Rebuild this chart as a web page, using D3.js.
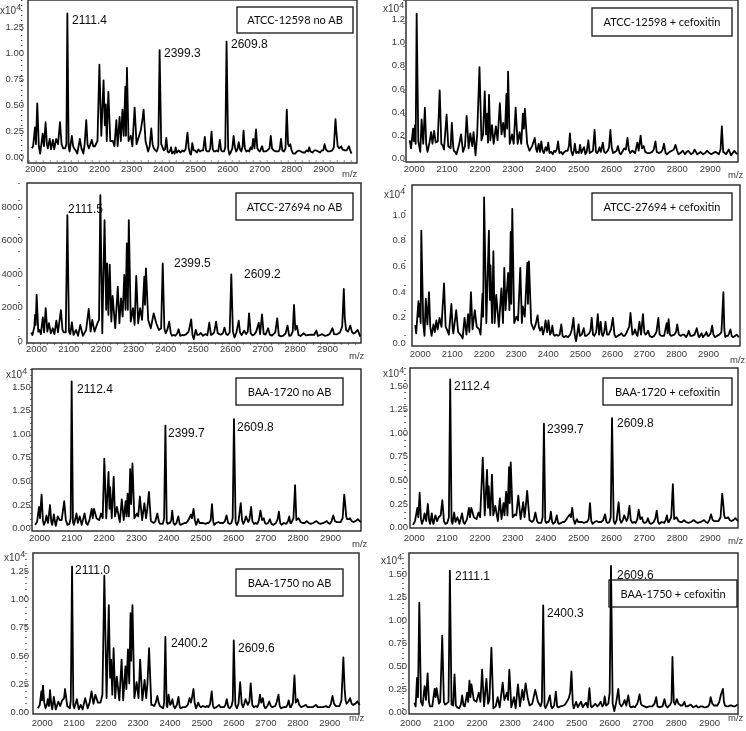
<!DOCTYPE html>
<html>
<head>
<meta charset="utf-8">
<script src="https://cdnjs.cloudflare.com/ajax/libs/d3/7.8.5/d3.min.js"></script>
<style>
  html, body { margin: 0; padding: 0; background: #fff; }
  svg { display: block; }
  text { font-family: "Liberation Sans", Arial, sans-serif; }
  .tick text { fill: #3a3a3a; font-size: 9.5px; }
  .peak-label { fill: #111; font-size: 12px; }
  .box-label { fill: #111; font-family: Lato, sans-serif; font-size: 11px; text-anchor: middle; }
</style>
</head>
<body>
<div id="chart"></div>
<script>
// spectra: [m/z as it sits against the printed axis, intensity in axis units]
const atcc12598NoAb = [[1990,.08],[1994,.1],[2000,.28],[2003,.12],[2007,.51],[2012,.1],[2016,.03],[2020,.12],[2024,.22],[2028,.1],[2033,.33],[2037,.12],[2040,.08],[2046,.17],[2050,.07],[2056,.16],[2060,.07],[2066,.17],[2072,.12],[2078,.33],[2083,.12],[2088,.08],[2094,.08],[2098,.12],[2101,1.37],[2105,.1],[2108,.05],[2115,.2],[2119,.1],[2122,.08],[2127,.06],[2132,.03],[2136,.1],[2140,.17],[2145,.08],[2151,.03],[2155,.12],[2160,.35],[2164,.12],[2168,.08],[2173,.12],[2177,.16],[2182,.1],[2187,.1],[2195,.15],[2201,.88],[2207,.2],[2214,.73],[2218,.3],[2221,.5],[2224,.15],[2229,.62],[2235,.15],[2243,.15],[2248,.1],[2254,.35],[2258,.1],[2264,.38],[2268,.15],[2273,.45],[2277,.2],[2282,.67],[2284,.2],[2287,.85],[2292,.15],[2299,.2],[2304,.1],[2311,.47],[2317,.12],[2325,.2],[2330,.25],[2336,.37],[2339,.45],[2345,.15],[2353,.05],[2358,.1],[2363,.27],[2367,.12],[2371,.08],[2376,.06],[2380,.05],[2385,.1],[2389,1.02],[2394,.12],[2397,.1],[2402,.06],[2406,.07],[2410,.18],[2414,.05],[2418,.04],[2422,.06],[2425,.09],[2428,.03],[2433,.05],[2436,.03],[2439,.09],[2443,.04],[2449,.06],[2454,.04],[2460,.06],[2465,.05],[2470,.07],[2476,.23],[2480,.08],[2484,.03],[2487,.02],[2491,.13],[2495,.06],[2500,.06],[2505,.04],[2510,.07],[2515,.05],[2520,.06],[2525,.06],[2530,.19],[2534,.06],[2538,.05],[2543,.05],[2547,.08],[2551,.24],[2555,.07],[2559,.05],[2563,.05],[2567,.06],[2572,.05],[2577,.16],[2581,.06],[2586,.05],[2590,.05],[2594,.09],[2598,1.1],[2603,.08],[2607,.02],[2611,.04],[2616,.08],[2620,.2],[2624,.09],[2628,.05],[2632,.07],[2636,.14],[2640,.07],[2644,.05],[2648,.1],[2651,.25],[2655,.08],[2660,.05],[2665,.06],[2669,.05],[2673,.09],[2677,.07],[2681,.17],[2685,.08],[2690,.26],[2694,.08],[2698,.06],[2702,.05],[2706,.08],[2709,.1],[2713,.05],[2720,.05],[2725,.06],[2732,.08],[2736,.2],[2740,.08],[2745,.06],[2752,.05],[2760,.05],[2764,.07],[2768,.17],[2772,.06],[2777,.05],[2782,.08],[2786,.45],[2790,.12],[2793,.1],[2797,.12],[2801,.06],[2806,.03],[2812,.03],[2818,.05],[2824,.06],[2830,.05],[2836,.04],[2842,.04],[2848,.06],[2853,.05],[2856,.09],[2860,.05],[2866,.04],[2872,.06],[2878,.06],[2884,.05],[2890,.04],[2895,.06],[2900,.06],[2904,.12],[2908,.07],[2914,.05],[2920,.05],[2928,.06],[2933,.09],[2938,.36],[2941,.23],[2945,.1],[2950,.08],[2956,.1],[2960,.07],[2967,.06],[2973,.06],[2980,.1],[2984,.06],[2988,.03]];

const atcc12598Cef = [[1988,.15],[1992,.08],[1998,.25],[2001,.14],[2004,.28],[2006,.12],[2009,1.24],[2014,.14],[2020,.05],[2024,.33],[2029,.12],[2034,.43],[2038,.12],[2042,.05],[2048,.13],[2053,.22],[2057,.12],[2062,.23],[2067,.13],[2073,.14],[2079,.58],[2084,.12],[2089,.1],[2092,.07],[2100,.37],[2105,.1],[2112,.08],[2116,.3],[2120,.1],[2122,.06],[2126,.05],[2130,.03],[2137,.1],[2144,.2],[2150,.05],[2156,.1],[2161,.36],[2167,.08],[2172,.21],[2178,.1],[2182,.22],[2188,.02],[2193,.2],[2200,.78],[2206,.15],[2211,.2],[2216,.57],[2220,.2],[2223,.38],[2226,.13],[2229,.54],[2233,.15],[2238,.28],[2243,.12],[2250,.27],[2255,.15],[2262,.47],[2267,.2],[2272,.3],[2277,.18],[2282,.55],[2284,.25],[2287,.74],[2292,.12],[2299,.2],[2304,.12],[2310,.43],[2316,.12],[2322,.22],[2327,.12],[2332,.38],[2335,.25],[2338,.42],[2345,.12],[2352,.06],[2360,.1],[2368,.17],[2372,.08],[2375,.05],[2380,.12],[2384,.05],[2388,.14],[2392,.06],[2396,.04],[2401,.09],[2405,.06],[2409,.13],[2413,.04],[2418,.05],[2423,.03],[2427,.06],[2431,.05],[2435,.07],[2439,.14],[2443,.04],[2448,.05],[2453,.03],[2458,.05],[2463,.06],[2468,.06],[2472,.1],[2475,.21],[2479,.06],[2483,.02],[2487,.06],[2490,.12],[2494,.04],[2498,.05],[2502,.04],[2506,.11],[2510,.04],[2514,.07],[2518,.09],[2522,.03],[2526,.05],[2531,.15],[2535,.04],[2540,.05],[2545,.06],[2550,.24],[2554,.05],[2558,.04],[2562,.06],[2565,.09],[2569,.05],[2575,.13],[2579,.05],[2583,.04],[2590,.06],[2594,.09],[2598,.24],[2602,.09],[2606,.04],[2612,.05],[2617,.06],[2621,.1],[2626,.04],[2630,.03],[2636,.06],[2640,.08],[2645,.07],[2650,.17],[2654,.07],[2658,.04],[2665,.06],[2673,.04],[2680,.13],[2684,.06],[2690,.19],[2694,.08],[2699,.1],[2704,.05],[2710,.04],[2718,.04],[2725,.05],[2730,.07],[2735,.14],[2739,.05],[2745,.04],[2753,.05],[2757,.07],[2761,.12],[2766,.04],[2770,.03],[2778,.05],[2785,.06],[2791,.07],[2796,.11],[2801,.06],[2805,.03],[2811,.04],[2818,.06],[2825,.03],[2830,.05],[2835,.06],[2843,.03],[2849,.04],[2854,.07],[2858,.05],[2862,.03],[2868,.04],[2872,.05],[2880,.03],[2886,.04],[2892,.06],[2899,.04],[2905,.03],[2911,.04],[2917,.05],[2923,.04],[2928,.03],[2933,.07],[2937,.27],[2941,.05],[2946,.04],[2950,.03],[2958,.07],[2965,.02],[2970,.04],[2975,.06],[2980,.04],[2985,.03]];

const atcc27694NoAb = [[1985,440],[1989,300],[1995,800],[1997,1500],[1999,900],[2002,2700],[2007,500],[2011,600],[2015,350],[2021,1350],[2025,450],[2030,1900],[2035,500],[2040,1000],[2046,400],[2052,700],[2057,350],[2063,1150],[2068,450],[2077,1780],[2082,600],[2086,450],[2092,450],[2097,7460],[2102,500],[2106,350],[2111,1050],[2116,300],[2124,600],[2130,250],[2137,900],[2145,250],[2155,600],[2163,1850],[2169,500],[2174,1200],[2181,500],[2190,1000],[2195,1200],[2199,8650],[2205,400],[2212,7160],[2217,1800],[2220,4570],[2224,1500],[2228,4500],[2233,1100],[2237,2630],[2245,700],[2253,3180],[2258,1000],[2263,2490],[2268,1400],[2273,3880],[2277,1800],[2281,5770],[2284,1800],[2287,7160],[2293,1100],[2300,1900],[2305,900],[2310,3820],[2316,1000],[2322,1900],[2328,1200],[2335,3780],[2337,2100],[2340,4280],[2347,1200],[2355,700],[2364,1590],[2372,1000],[2380,600],[2387,700],[2392,4570],[2397,700],[2401,400],[2406,600],[2412,1090],[2417,400],[2421,250],[2426,300],[2431,250],[2437,400],[2441,640],[2446,250],[2452,300],[2458,280],[2465,350],[2472,500],[2480,1230],[2484,300],[2488,50],[2494,600],[2499,300],[2504,320],[2510,420],[2516,250],[2520,300],[2525,350],[2530,280],[2536,1030],[2541,300],[2546,350],[2551,450],[2557,1090],[2562,400],[2567,350],[2572,320],[2578,400],[2583,740],[2588,350],[2593,300],[2599,450],[2604,3920],[2609,500],[2614,150],[2620,450],[2627,1150],[2631,450],[2636,300],[2644,550],[2650,350],[2655,500],[2659,1590],[2664,400],[2669,280],[2675,330],[2681,500],[2689,1030],[2693,350],[2699,1530],[2704,380],[2710,320],[2718,700],[2723,320],[2730,260],[2740,450],[2746,1290],[2751,280],[2758,220],[2765,260],[2772,400],[2778,860],[2783,250],[2788,260],[2794,500],[2798,2090],[2802,600],[2807,840],[2812,300],[2818,240],[2828,400],[2835,280],[2843,300],[2852,320],[2860,300],[2867,560],[2872,240],[2879,300],[2885,350],[2893,250],[2900,280],[2908,350],[2917,700],[2922,350],[2930,330],[2940,450],[2947,800],[2952,3050],[2955,1300],[2959,600],[2965,500],[2972,860],[2977,500],[2982,380],[2988,450],[2995,600],[3003,200]];

const atcc27694Cef = [[1986,.135],[1989,.07],[1996,.32],[1998,.2],[2000,.3],[2003,.15],[2005,.87],[2011,.15],[2015,.05],[2019,.34],[2024,.14],[2029,.39],[2033,.12],[2037,.05],[2043,.14],[2047,.08],[2052,.17],[2056,.1],[2062,.19],[2068,.12],[2076,.46],[2081,.12],[2085,.1],[2091,.06],[2099,.3],[2103,.1],[2105,.07],[2114,.25],[2120,.08],[2130,.05],[2134,.03],[2140,.19],[2146,.06],[2151,.22],[2155,.08],[2160,.39],[2165,.1],[2172,.25],[2178,.12],[2186,.1],[2190,.06],[2196,.38],[2198,.2],[2201,1.13],[2208,.15],[2216,.87],[2219,.33],[2221,.6],[2226,.15],[2230,.71],[2234,.15],[2239,.37],[2247,.12],[2255,.42],[2260,.15],[2264,.58],[2268,.25],[2272,.4],[2276,.54],[2280,.25],[2284,.86],[2286,.3],[2289,1.04],[2295,.15],[2302,.2],[2307,.17],[2314,.58],[2319,.15],[2322,.28],[2328,.2],[2336,.62],[2338,.3],[2341,.63],[2348,.15],[2356,.1],[2362,.14],[2368,.21],[2372,.12],[2376,.09],[2381,.12],[2385,.06],[2389,.1],[2393,.17],[2398,.08],[2402,.17],[2407,.06],[2411,.08],[2414,.13],[2418,.06],[2422,.05],[2427,.06],[2432,.05],[2437,.06],[2442,.14],[2446,.05],[2450,.04],[2456,.05],[2463,.04],[2470,.06],[2475,.1],[2480,.19],[2484,.06],[2488,.01],[2492,.07],[2496,.14],[2500,.05],[2506,.06],[2512,.11],[2516,.05],[2520,.05],[2525,.06],[2529,.07],[2533,.09],[2537,.19],[2541,.06],[2545,.05],[2551,.08],[2556,.22],[2560,.06],[2565,.16],[2569,.06],[2572,.05],[2576,.08],[2580,.16],[2585,.06],[2590,.06],[2597,.1],[2603,.19],[2608,.06],[2612,.04],[2618,.05],[2625,.06],[2630,.07],[2635,.05],[2640,.05],[2645,.07],[2650,.1],[2654,.12],[2658,.23],[2664,.06],[2668,.07],[2672,.1],[2677,.06],[2680,.05],[2686,.16],[2691,.06],[2697,.22],[2701,.08],[2705,.06],[2709,.07],[2713,.09],[2718,.05],[2725,.04],[2732,.05],[2739,.08],[2745,.19],[2749,.06],[2755,.05],[2763,.05],[2771,.15],[2774,.07],[2777,.18],[2781,.06],[2785,.05],[2795,.06],[2800,.08],[2804,.14],[2809,.06],[2815,.05],[2820,.06],[2825,.06],[2832,.04],[2836,.06],[2840,.09],[2845,.05],[2850,.05],[2858,.06],[2865,.11],[2870,.05],[2873,.04],[2877,.06],[2880,.07],[2884,.04],[2887,.05],[2891,.06],[2895,.08],[2899,.05],[2903,.05],[2908,.07],[2913,.13],[2917,.06],[2922,.04],[2928,.05],[2935,.06],[2942,.08],[2948,.39],[2951,.1],[2954,.04],[2958,.05],[2962,.05],[2966,.07],[2970,.1],[2974,.05],[2978,.04],[2984,.05],[2990,.06],[2996,.04]];

const baa1720NoAb = [[1988,.03],[1994,.06],[2000,.22],[2003,.1],[2008,.35],[2012,.08],[2015,.03],[2020,.07],[2023,.13],[2028,.05],[2034,.24],[2038,.06],[2041,.03],[2046,.14],[2050,.05],[2052,.02],[2058,.12],[2064,.08],[2070,.08],[2078,.28],[2083,.08],[2088,.03],[2094,.04],[2098,.1],[2101,1.55],[2105,.06],[2108,.03],[2116,.15],[2120,.05],[2126,.12],[2132,.03],[2141,.15],[2146,.05],[2150,.03],[2156,.08],[2163,.2],[2166,.1],[2170,.2],[2178,.1],[2186,.08],[2192,.15],[2197,.1],[2202,.73],[2208,.1],[2215,.59],[2218,.2],[2220,.43],[2225,.1],[2231,.54],[2235,.12],[2241,.22],[2250,.06],[2256,.3],[2262,.08],[2268,.28],[2271,.12],[2274,.36],[2278,.12],[2282,.62],[2285,.25],[2289,.68],[2295,.1],[2303,.15],[2307,.12],[2312,.33],[2319,.08],[2326,.26],[2331,.1],[2335,.2],[2340,.38],[2346,.07],[2350,.06],[2355,.05],[2360,.07],[2366,.15],[2371,.06],[2375,.04],[2380,.04],[2383,.04],[2387,.1],[2391,1.08],[2395,.06],[2398,.04],[2402,.05],[2405,.05],[2409,.08],[2412,.18],[2416,.05],[2420,.03],[2425,.05],[2431,.12],[2435,.04],[2438,.03],[2444,.04],[2450,.05],[2455,.05],[2460,.07],[2465,.1],[2470,.14],[2473,.1],[2478,.2],[2482,.08],[2486,.03],[2492,.09],[2496,.05],[2500,.05],[2507,.05],[2515,.04],[2520,.05],[2525,.05],[2531,.08],[2535,.25],[2539,.06],[2542,.03],[2548,.05],[2555,.06],[2560,.05],[2565,.05],[2570,.05],[2575,.07],[2580,.13],[2585,.05],[2590,.04],[2595,.05],[2599,.1],[2603,1.15],[2608,.06],[2612,.03],[2617,.07],[2624,.26],[2628,.08],[2632,.04],[2636,.07],[2640,.12],[2647,.06],[2651,.09],[2656,.22],[2660,.07],[2665,.04],[2670,.05],[2675,.04],[2680,.08],[2685,.18],[2690,.08],[2695,.1],[2699,.05],[2703,.04],[2709,.05],[2714,.09],[2719,.04],[2725,.03],[2733,.05],[2738,.09],[2742,.17],[2746,.05],[2750,.03],[2757,.05],[2765,.04],[2770,.07],[2774,.12],[2777,.05],[2780,.05],[2787,.1],[2792,.45],[2796,.08],[2803,.1],[2809,.06],[2815,.05],[2822,.05],[2828,.07],[2834,.05],[2840,.04],[2848,.05],[2858,.07],[2864,.05],[2870,.04],[2880,.05],[2890,.07],[2895,.05],[2900,.04],[2905,.07],[2910,.13],[2915,.07],[2920,.06],[2927,.06],[2933,.06],[2939,.1],[2944,.35],[2947,.25],[2950,.12],[2953,.09],[2958,.09],[2962,.1],[2967,.07],[2972,.06],[2979,.07],[2986,.09],[2995,.06]];

const baa1720Cef = [[1998,.02],[2004,.06],[2011,.2],[2014,.1],[2018,.36],[2022,.08],[2025,.03],[2030,.08],[2033,.14],[2038,.06],[2043,.24],[2047,.06],[2050,.03],[2055,.14],[2058,.05],[2060,.03],[2066,.12],[2071,.06],[2076,.1],[2082,.12],[2087,.28],[2092,.06],[2096,.03],[2102,.04],[2107,.1],[2111,1.56],[2115,.06],[2118,.03],[2123,.15],[2127,.05],[2133,.1],[2139,.03],[2147,.14],[2151,.05],[2155,.03],[2162,.08],[2168,.2],[2171,.1],[2175,.2],[2183,.1],[2191,.08],[2197,.15],[2202,.1],[2210,.73],[2216,.12],[2223,.6],[2226,.2],[2228,.43],[2233,.12],[2238,.55],[2242,.12],[2248,.22],[2256,.06],[2262,.3],[2267,.08],[2273,.25],[2276,.12],[2281,.37],[2285,.12],[2290,.63],[2292,.25],[2295,.68],[2301,.1],[2308,.13],[2312,.12],[2318,.33],[2325,.08],[2333,.26],[2337,.1],[2341,.22],[2345,.38],[2352,.07],[2356,.06],[2360,.05],[2365,.07],[2370,.15],[2375,.06],[2379,.04],[2384,.04],[2388,.04],[2392,.1],[2396,1.09],[2400,.06],[2403,.04],[2407,.05],[2410,.05],[2414,.08],[2417,.16],[2421,.05],[2424,.03],[2430,.05],[2435,.12],[2439,.04],[2442,.03],[2448,.04],[2453,.05],[2458,.05],[2463,.07],[2468,.1],[2475,.13],[2478,.1],[2482,.2],[2486,.08],[2490,.03],[2496,.08],[2500,.05],[2504,.05],[2511,.05],[2518,.04],[2523,.05],[2527,.05],[2532,.08],[2536,.25],[2540,.06],[2544,.03],[2550,.05],[2556,.06],[2561,.05],[2566,.05],[2570,.05],[2576,.07],[2582,.13],[2586,.05],[2590,.04],[2595,.05],[2599,.1],[2603,1.15],[2608,.06],[2612,.03],[2617,.07],[2623,.26],[2627,.08],[2631,.04],[2636,.07],[2640,.12],[2647,.06],[2651,.09],[2656,.22],[2660,.07],[2665,.04],[2670,.05],[2675,.04],[2680,.08],[2684,.18],[2689,.08],[2694,.1],[2698,.05],[2702,.04],[2708,.05],[2712,.09],[2717,.04],[2722,.03],[2730,.05],[2735,.09],[2739,.17],[2743,.05],[2747,.03],[2754,.05],[2762,.04],[2766,.07],[2770,.12],[2773,.05],[2776,.05],[2783,.1],[2788,.45],[2792,.08],[2799,.1],[2805,.06],[2810,.05],[2816,.05],[2822,.07],[2828,.05],[2835,.04],[2843,.05],[2852,.07],[2858,.05],[2864,.04],[2873,.05],[2883,.07],[2888,.05],[2894,.04],[2899,.07],[2904,.13],[2909,.07],[2913,.06],[2920,.06],[2927,.06],[2933,.1],[2938,.35],[2941,.25],[2944,.12],[2947,.09],[2952,.09],[2956,.1],[2961,.07],[2966,.06],[2972,.07],[2978,.09],[2986,.06]];

const baa1750NoAb = [[1988,.03],[1994,.06],[1999,.18],[2001,.1],[2004,.23],[2008,.08],[2012,.03],[2016,.06],[2019,.11],[2023,.05],[2026,.19],[2030,.06],[2033,.02],[2038,.13],[2044,.02],[2052,.09],[2058,.05],[2064,.1],[2070,.12],[2073,.2],[2080,.05],[2088,.03],[2091,.1],[2095,1.28],[2099,.06],[2102,.03],[2110,.11],[2116,.02],[2122,.06],[2128,.02],[2136,.12],[2144,.03],[2150,.08],[2156,.18],[2162,.07],[2168,.15],[2176,.08],[2184,.08],[2190,.15],[2196,1.2],[2203,.12],[2210,.94],[2214,.3],[2217,.46],[2221,.15],[2225,.56],[2230,.12],[2235,.31],[2243,.1],[2250,.46],[2255,.1],[2262,.4],[2265,.2],[2270,.55],[2274,.25],[2278,.87],[2280,.45],[2284,.94],[2290,.12],[2297,.26],[2303,.12],[2308,.46],[2315,.1],[2322,.28],[2327,.12],[2331,.25],[2336,.56],[2343,.06],[2347,.06],[2352,.05],[2357,.08],[2362,.14],[2366,.08],[2370,.05],[2375,.04],[2380,.03],[2383,.08],[2387,.66],[2391,.05],[2393,.04],[2397,.15],[2402,.06],[2405,.07],[2409,.11],[2413,.05],[2417,.03],[2423,.06],[2428,.13],[2432,.04],[2435,.03],[2442,.04],[2450,.04],[2457,.06],[2463,.12],[2467,.08],[2470,.12],[2475,.2],[2479,.07],[2483,.03],[2490,.08],[2494,.05],[2498,.04],[2505,.05],[2512,.04],[2517,.05],[2522,.04],[2527,.07],[2532,.18],[2536,.05],[2540,.03],[2547,.04],[2555,.06],[2560,.04],[2565,.04],[2570,.04],[2575,.06],[2579,.11],[2584,.04],[2588,.03],[2594,.05],[2598,.1],[2601,.63],[2606,.06],[2611,.03],[2616,.07],[2621,.26],[2626,.07],[2630,.04],[2634,.07],[2638,.11],[2645,.06],[2650,.09],[2654,.25],[2659,.06],[2664,.04],[2670,.05],[2675,.04],[2679,.07],[2683,.15],[2687,.08],[2692,.12],[2696,.05],[2700,.03],[2706,.05],[2712,.09],[2717,.05],[2722,.04],[2731,.05],[2736,.09],[2741,.15],[2745,.05],[2749,.03],[2757,.04],[2765,.04],[2769,.06],[2773,.1],[2777,.04],[2780,.04],[2786,.08],[2791,.32],[2795,.08],[2801,.11],[2806,.06],[2812,.04],[2820,.05],[2827,.06],[2832,.04],[2838,.04],[2848,.04],[2858,.06],[2864,.04],[2870,.04],[2880,.04],[2890,.05],[2895,.04],[2900,.04],[2905,.07],[2910,.14],[2915,.07],[2920,.05],[2927,.05],[2932,.05],[2938,.1],[2944,.48],[2948,.2],[2951,.1],[2954,.07],[2960,.09],[2965,.12],[2970,.07],[2975,.06],[2981,.07],[2988,.09],[2995,.06]];

const baa1750Cef = [[2013,.09],[2017,.05],[2019,.2],[2021,.36],[2024,.15],[2028,1.18],[2033,.1],[2038,.06],[2044,.27],[2048,.12],[2053,.41],[2057,.1],[2060,.05],[2067,.05],[2074,.24],[2077,.15],[2080,.25],[2087,.08],[2091,.1],[2097,.82],[2102,.1],[2106,.07],[2110,.08],[2116,.1],[2120,1.53],[2125,.07],[2130,.06],[2134,.4],[2138,.06],[2142,.04],[2148,.03],[2153,.07],[2157,.17],[2161,.06],[2165,.05],[2172,.2],[2175,.1],[2179,.33],[2182,.15],[2185,.29],[2192,.12],[2200,.1],[2207,.2],[2212,.1],[2217,.45],[2223,.05],[2230,.35],[2235,.08],[2239,.12],[2245,.69],[2251,.03],[2258,.05],[2264,.15],[2270,.04],[2279,.31],[2284,.12],[2292,.2],[2295,.12],[2299,.45],[2305,.04],[2313,.15],[2318,.03],[2325,.29],[2331,.05],[2338,.23],[2342,.12],[2348,.3],[2354,.15],[2360,.06],[2368,.08],[2377,.23],[2385,.1],[2393,.05],[2397,.1],[2401,1.15],[2405,.06],[2408,.03],[2414,.08],[2421,.17],[2425,.05],[2428,.03],[2434,.06],[2439,.21],[2443,.05],[2446,.04],[2453,.05],[2462,.06],[2467,.07],[2472,.1],[2478,.14],[2482,.2],[2486,.43],[2490,.08],[2493,.03],[2500,.1],[2505,.04],[2510,.07],[2515,.1],[2520,.04],[2525,.07],[2530,.09],[2535,.04],[2540,.25],[2544,.06],[2547,.04],[2553,.06],[2558,.08],[2564,.05],[2569,.07],[2574,.1],[2579,.05],[2583,.07],[2586,.16],[2590,.06],[2594,.07],[2597,.08],[2601,.2],[2605,1.58],[2610,.08],[2615,0],[2621,.1],[2627,.24],[2631,.08],[2636,.05],[2642,.08],[2646,.12],[2651,.06],[2657,.17],[2662,.05],[2666,.04],[2672,.05],[2677,.04],[2684,.08],[2688,.13],[2691,.18],[2695,.08],[2699,.06],[2706,.05],[2712,.04],[2720,.05],[2729,.05],[2736,.08],[2741,.15],[2745,.05],[2750,.04],[2760,.05],[2766,.13],[2770,.06],[2775,.04],[2783,.07],[2787,.1],[2790,.59],[2794,.1],[2798,.07],[2803,.13],[2808,.08],[2815,.06],[2820,.06],[2826,.1],[2830,.05],[2835,.05],[2840,.06],[2845,.07],[2850,.05],[2853,.04],[2858,.05],[2862,.06],[2866,.04],[2870,.04],[2875,.05],[2880,.05],[2885,.04],[2890,.04],[2897,.05],[2901,.07],[2905,.15],[2910,.08],[2915,.06],[2920,.06],[2925,.06],[2931,.1],[2936,.18],[2942,.24],[2945,.1],[2948,.06],[2953,.05],[2958,.05],[2963,.06],[2968,.06],[2973,.05],[2977,.05],[2982,.06],[2986,.07]];

const xTicks = [2000, 2100, 2200, 2300, 2400, 2500, 2600, 2700, 2800, 2900];
const yTicks125 = [0, .25, .5, .75, 1, 1.25];
const yTicks150 = [0, .25, .5, .75, 1, 1.25, 1.5];
const yTicksTenths = [0, .2, .4, .6, .8, 1, 1.2];
const yTicksTenthsShort = [0, .2, .4, .6, .8, 1];
const yTicksRaw = [0, 2000, 4000, 6000, 8000];

// one row per panel, pixel layout is kept apart from the spectra above
const panels = [
  {data: atcc12598NoAb, name: "ATCC-12598 no AB", ticks: yTicks125, fmt: ".2f", yref: 1.25,
   frame: [28, 0, 357, 163], xr: [35, 323.3], yr: [156.7, 26], labelX: 24, tickPad: 2, dotX: 21.7, dash: "1 4", dotY: 161,
   box: [237, 7, 353, 33], power: [0, 14], mz: [342, 177],
   peaks: [["2111.4", 72, 24], ["2399.3", 164, 57], ["2609.8", 231, 48]]},
  {data: atcc12598Cef, name: "ATCC-12598 + cefoxitin", ticks: yTicksTenths, fmt: ".1f", yref: 1.2,
   frame: [406, 0, 738, 162], xr: [413.7, 709.7], yr: [157.7, 18.3], labelX: 405, tickPad: 3, dotX: 404, dash: "1 22",
   box: [592, 8, 732, 36], power: [383, 12], mz: [728, 178], peaks: []},
  {data: atcc27694NoAb, name: "ATCC-27694 no AB", ticks: yTicksRaw, fmt: "d", yref: 8000,
   frame: [27, 183, 361, 343], xr: [36, 327], yr: [340, 206], labelX: 22.7, tickPad: 2, dotX: 19, dash: "1 16", dotY: 344,
   box: [236, 193, 353, 220], mz: [349, 359],
   peaks: [["2111.5", 68, 213], ["2399.5", 174, 267], ["2609.2", 244, 278]]},
  {data: atcc27694Cef, name: "ATCC-27694 + cefoxitin", ticks: yTicksTenthsShort, fmt: ".1f", yref: 1,
   frame: [412, 185, 740, 346], xr: [419.7, 708], yr: [342.3, 214], labelX: 405.7, tickPad: 4, dotX: 405, dash: "1 24",
   box: [592, 193, 732, 220], power: [384, 198], mz: [730, 363], peaks: []},
  {data: baa1720NoAb, name: "BAA-1720 no AB", ticks: yTicks150, fmt: ".2f", yref: 1.5,
   frame: [32, 369, 361, 531], xr: [39, 330], yr: [527.7, 386], labelX: 30.7, tickPad: 3, dotX: 31, dash: "1 5",
   box: [236, 378, 343, 405], power: [6, 378], mz: [352, 547],
   peaks: [["2112.4", 77, 393], ["2399.7", 168, 437], ["2609.8", 237, 431]]},
  {data: baa1720Cef, name: "BAA-1720 + cefoxitin", ticks: yTicks150, fmt: ".2f", yref: 1.5,
   frame: [410, 368, 738, 528], xr: [413.7, 709.7], yr: [526.7, 385], labelX: 408, tickPad: 6, dotX: 405, dash: "1 5",
   box: [603, 378, 732, 405], power: [383, 377], mz: [728, 544],
   peaks: [["2112.4", 454, 390], ["2399.7", 547, 433], ["2609.8", 617, 427]]},
  {data: baa1750NoAb, name: "BAA-1750 no AB", ticks: yTicks125, fmt: ".2f", yref: 1.25,
   frame: [33, 553, 359, 714], xr: [41.7, 329.3], yr: [711.7, 570], labelX: 29, tickPad: 5, dotX: 26, dash: "1 5",
   box: [236, 569, 343, 596], power: [4, 561], mz: [349, 721],
   peaks: [["2111.0", 75, 574], ["2400.2", 171, 647], ["2609.6", 238, 652]]},
  {data: baa1750Cef, name: "BAA-1750 + cefoxitin", ticks: yTicks150, fmt: ".2f", yref: 1.5,
   frame: [409, 553, 738, 714], xr: [410, 709], yr: [711, 573.3], labelX: 407, tickPad: 5, dotX: 403, dash: "1 4",
   box: [609, 580, 737, 607], power: [381, 564], mz: [728, 721],
   peaks: [["2111.1", 455, 580], ["2400.3", 547, 617], ["2609.6", 617, 579]]}
];

const svg = d3.select("#chart").append("svg")
    .attr("width", 746)
    .attr("height", 731);

// the source figure is a soft, resampled bitmap
svg.append("defs").append("filter")
    .attr("id", "soft")
    .attr("filterUnits", "userSpaceOnUse")
    .attr("x", 0).attr("y", 0)
    .attr("width", 746).attr("height", 731)
    .append("feGaussianBlur")
    .attr("stdDeviation", 0.3);

const root = svg.append("g").attr("filter", "url(#soft)");

panels.forEach(function(p) {
  const x = d3.scaleLinear().domain([2000, 2900]).range(p.xr);
  const y = d3.scaleLinear().domain([0, p.yref]).range(p.yr);
  const f = p.frame;
  const g = root.append("g");

  // dotted axes of the instrument software
  g.append("line")
      .attr("x1", p.dotX).attr("x2", p.dotX)
      .attr("y1", f[1]).attr("y2", f[3])
      .attr("stroke", "#222").attr("stroke-width", 1.2)
      .attr("stroke-dasharray", p.dash);
  if (p.dotY) {
    g.append("line")
        .attr("x1", p.dotX).attr("x2", f[2])
        .attr("y1", p.dotY).attr("y2", p.dotY)
        .attr("stroke", "#222").attr("stroke-width", 1.2)
        .attr("stroke-dasharray", "1 6");
  }

  g.append("rect")
      .attr("x", f[0]).attr("y", f[1])
      .attr("width", f[2] - f[0]).attr("height", f[3] - f[1])
      .attr("fill", "none").attr("stroke", "#222").attr("stroke-width", 1.4);

  const xAxis = d3.axisBottom(x).tickValues(xTicks).tickSize(0).tickPadding(p.tickPad).tickFormat(d3.format("d"));
  g.append("g")
      .attr("transform", "translate(0," + f[3] + ")")
      .call(xAxis)
      .call(function(a) { a.select(".domain").remove(); });

  const yAxis = d3.axisLeft(y).tickValues(p.ticks).tickSize(0).tickPadding(0).tickFormat(d3.format(p.fmt));
  g.append("g")
      .attr("transform", "translate(" + p.labelX + ",0)")
      .call(yAxis)
      .call(function(a) { a.select(".domain").remove(); });

  const line = d3.line()
      .x(function(d) { return x(d[0]); })
      .y(function(d) { return y(d[1]); });

  g.append("path")
      .datum(p.data)
      .attr("d", line)
      .attr("fill", "none")
      .attr("stroke", "#000")
      .attr("stroke-width", 1.8)
      .attr("stroke-linejoin", "round");

  // strain label box, no fill: a peak shows through it in the last panel
  g.append("rect")
      .attr("x", p.box[0]).attr("y", p.box[1])
      .attr("width", p.box[2] - p.box[0]).attr("height", p.box[3] - p.box[1])
      .attr("fill", "none").attr("stroke", "#111").attr("stroke-width", 1.3);
  g.append("text")
      .attr("class", "box-label")
      .attr("x", (p.box[0] + p.box[2]) / 2)
      .attr("y", (p.box[1] + p.box[3]) / 2 + 4)
      .text(p.name);

  g.selectAll(".peak-label")
      .data(p.peaks)
      .enter().append("text")
      .attr("class", "peak-label")
      .attr("x", function(d) { return d[1]; })
      .attr("y", function(d) { return d[2]; })
      .text(function(d) { return d[0]; });

  if (p.power) {
    const t = g.append("text")
        .attr("x", p.power[0]).attr("y", p.power[1])
        .attr("fill", "#3a3a3a").attr("font-size", 10)
        .text("x10");
    t.append("tspan").attr("dy", -4).attr("font-size", 9).text("4");
  }

  g.append("text")
      .attr("x", p.mz[0]).attr("y", p.mz[1])
      .attr("fill", "#3a3a3a").attr("font-size", 9.5)
      .text("m/z");
});
</script>
</body>
</html>
